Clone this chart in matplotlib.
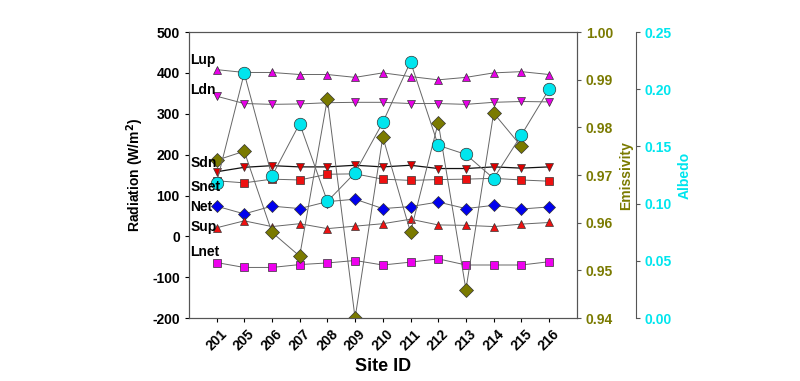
import numpy as np
import matplotlib.pyplot as plt

plt.rcParams['font.family'] = ['Liberation Sans', 'DejaVu Sans']
plt.rcParams['font.weight'] = 'bold'
plt.rcParams['axes.unicode_minus'] = False

sites = ['201', '205', '206', '207', '208', '209', '210', '211', '212', '213', '214', '215', '216']

# radiation components (W/m2)
lup = [408, 401, 401, 396, 396, 389, 400, 391, 383, 389, 400, 403, 396]
ldn = [343, 325, 323, 324, 327, 328, 328, 325, 325, 323, 328, 330, 329]
sdn = [158, 169, 173, 170, 170, 174, 170, 174, 166, 166, 170, 167, 170]
snet = [136, 131, 140, 138, 152, 153, 140, 137, 139, 140, 142, 138, 135]
net = [74, 55, 74, 68, 85, 91, 68, 73, 84, 68, 76, 67, 72]
sup = [21, 38, 24, 31, 19, 25, 31, 42, 28, 27, 24, 30, 34]
lnet = [-64, -76, -76, -69, -65, -59, -70, -63, -55, -70, -70, -70, -62]

emissivity = [0.9731, 0.9750, 0.958, 0.953, 0.986, 0.940, 0.978, 0.958, 0.981, 0.946, 0.983, 0.976, np.nan]
albedo = [0.118, 0.214, 0.124, 0.170, 0.102, 0.127, 0.171, 0.224, 0.151, 0.143, 0.122, 0.160, 0.200]

x = np.arange(len(sites))
line_col = '#666666'
edge = '#333333'

fig = plt.figure(figsize=(8, 3.81), dpi=100)
ax = fig.add_axes([0.236, 0.165, 0.485, 0.751])

ms = 6
ax.plot(x, lup, color=line_col, lw=0.7, marker='^', ms=ms, mfc='#e600e6', mec=edge, mew=0.5)
ax.plot(x, ldn, color=line_col, lw=0.7, marker='v', ms=ms, mfc='#e600e6', mec=edge, mew=0.5)
ax.plot(x, sdn, color='#111111', lw=0.9, marker='v', ms=ms, mfc='#dd0000', mec=edge, mew=0.5)
ax.plot(x, snet, color=line_col, lw=0.7, marker='s', ms=ms - 0.5, mfc='#ee1111', mec=edge, mew=0.5)
ax.plot(x, net, color=line_col, lw=0.7, marker='D', ms=ms, mfc='#0000ee', mec=edge, mew=0.5)
ax.plot(x, sup, color=line_col, lw=0.7, marker='^', ms=ms, mfc='#ee1111', mec=edge, mew=0.5)
ax.plot(x, lnet, color=line_col, lw=0.7, marker='s', ms=ms - 0.5, mfc='#ee00ee', mec=edge, mew=0.5)

ax.set_xlim(-1, 13)
ax.set_ylim(-200, 500)
ax.set_yticks(np.arange(-200, 501, 100))
ax.set_xticks(x)
ax.set_xticklabels(sites, rotation=45, ha='center', fontsize=10, fontweight='bold')
ax.tick_params(axis='y', labelsize=10, direction='out', length=3)
ax.tick_params(axis='x', direction='out', length=3)
ax.set_ylabel('Radiation (W/m$^\\mathbf{2}$)', fontsize=10, fontweight='bold')
ax.set_xlabel('Site ID', fontsize=13, fontweight='bold', labelpad=3)
for s in ax.spines.values():
    s.set_color('#555555')
    s.set_linewidth(0.8)

# emissivity axis
ax2 = ax.twinx()
ax2.plot(x, emissivity, color=line_col, lw=0.7, marker='D', ms=7.5, mfc='#7a7a00', mec=edge, mew=0.5)
ax2.set_ylim(0.94, 1.00)
ax2.set_yticks(np.arange(0.94, 1.001, 0.01))
ax2.set_yticklabels(['%.2f' % v for v in np.arange(0.94, 1.001, 0.01)])
ax2.tick_params(axis='y', colors='#555555', labelcolor='#7a7a00', labelsize=10, length=3)
ax2.set_ylabel('Emissivity', color='#7a7a00', fontsize=10, fontweight='bold')
for s in ax2.spines.values():
    s.set_color('#555555')
    s.set_linewidth(0.8)

# albedo axis
ax3 = ax.twinx()
ax3.spines['right'].set_position(('axes', 1.152))
ax3.plot(x, albedo, color=line_col, lw=0.7, marker='o', ms=9, mfc='#00e5ee', mec=edge, mew=0.5, zorder=1)
ax3.set_ylim(0, 0.25)
ax3.set_yticks(np.arange(0, 0.251, 0.05))
ax3.set_yticklabels(['%.2f' % v for v in np.arange(0, 0.251, 0.05)])
ax3.tick_params(axis='y', colors='#555555', labelcolor='#00e5ee', labelsize=10, length=3)
ax3.set_ylabel('Albedo', color='#00e5ee', fontsize=10, fontweight='bold')
for k in ['top', 'bottom', 'left']:
    ax3.spines[k].set_visible(False)
ax3.spines['right'].set_color('#555555')
ax3.spines['right'].set_linewidth(0.8)

# series names, drawn on top of everything
labels = [('Lup', 431), ('Ldn', 358), ('Sdn', 179), ('Snet', 121), ('Net', 72), ('Sup', 23), ('Lnet', -38)]
for name, yv in labels:
    ax3.text(-0.95, yv, name, transform=ax.transData, fontsize=10, fontweight='bold',
             ha='left', va='center', zorder=5)

fig.savefig('out.png', dpi=100)
